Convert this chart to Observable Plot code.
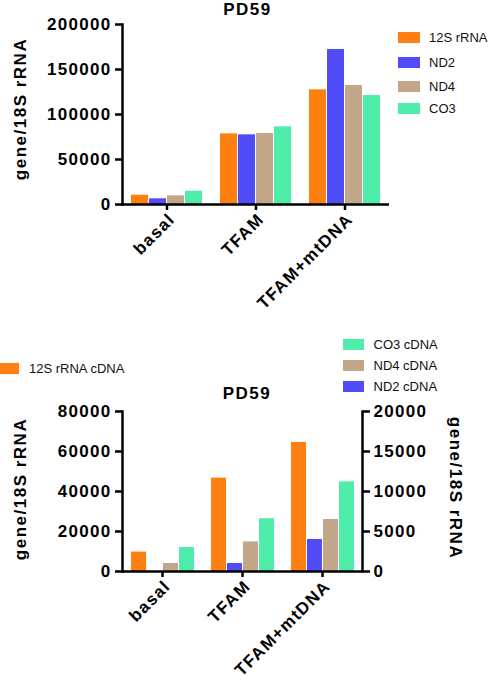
<!DOCTYPE html>
<html><head><meta charset="utf-8">
<script src="https://cdn.jsdelivr.net/npm/d3@7"></script>
<script src="https://cdn.jsdelivr.net/npm/@observablehq/plot@0.6"></script>
<style>
body{margin:0;background:#fff;}
#wrap{position:relative;width:496px;height:683px;overflow:hidden;font-family:"Liberation Sans",Arial,sans-serif;color:#000;}
.abs{position:absolute;white-space:nowrap;line-height:1;}
.title{font-weight:bold;font-size:17px;letter-spacing:1.5px;transform:translateX(-50%);}
.ylab{font-weight:bold;font-size:17px;letter-spacing:1.5px;}
.leg{font-size:13px;color:#111;display:flex;align-items:center;height:14px;}
.sw{display:inline-block;height:11px;}
.chart{position:absolute;left:0;}
</style></head>
<body><div id="wrap"></div>
<script>
const categories = ["basal", "TFAM", "TFAM+mtDNA"];
const colors = ["#ff7f10", "#4f4cf8", "#c1a68a", "#4eeeaa"];

// top panel
const topSeries = ["12S rRNA", "ND2", "ND4", "CO3"];
const top12S = [10300, 78500, 127400];
const topND2 = [6300, 77400, 172200];
const topND4 = [9600, 78900, 132200];
const topCO3 = [14800, 86300, 121100];
const topTicks = [0, 50000, 100000, 150000, 200000];

// bottom panel (12S on left axis, others on right axis)
const bottomSeries = ["12S rRNA cDNA", "ND2 cDNA", "ND4 cDNA", "CO3 cDNA"];
const bot12S = [9700, 46700, 64500];
const botND2 = [0, 1000, 4000];
const botND4 = [1000, 3700, 6500];
const botCO3 = [3000, 6600, 11200];
const botLeftTicks = [0, 20000, 40000, 60000, 80000];
const botRightTicks = [0, 5000, 10000, 15000, 20000];

const yLabel = "gene/18S rRNA";
const titleText = "PD59";

const wrap = document.getElementById("wrap");
const svgStyle = {fontFamily: "'Liberation Sans', Arial, sans-serif", fontSize: "17px", fontWeight: "bold", letterSpacing: "1.3px", color: "#000", background: "transparent"};

function rows(seriesNames, arrays, axisOf) {
  const out = [];
  categories.forEach((c, i) => arrays.forEach((arr, j) => out.push({cat: c, series: seriesNames[j], value: arr[i], axis: axisOf ? axisOf[j] : "left"})));
  return out;
}

function fxAxes() {
  return [
    Plot.axisFx({anchor: "bottom", text: null, tickSize: 6, label: null, strokeWidth: 2.5}),
    Plot.axisFx({anchor: "bottom", tickRotate: -45, tickSize: 6, tickPadding: 3, label: null, strokeOpacity: 0, dx: 5, dy: 3})
  ];
}

// ---- top chart
const topData = rows(topSeries, [top12S, topND2, topND4, topCO3]);
const topPlot = Plot.plot({
  width: 496, height: 330,
  marginLeft: 121, marginRight: 106, marginTop: 24, marginBottom: 126,
  style: svgStyle,
  fx: {domain: categories, padding: 0, label: null},
  x: {domain: topSeries, paddingInner: 0.07, paddingOuter: 0.485, axis: null},
  y: {domain: [0, topTicks[topTicks.length - 1]], label: null},
  color: {domain: topSeries, range: colors},
  marks: [
    Plot.barY(topData, {fx: "cat", x: "series", y: "value", fill: "series"}),
    Plot.ruleY([0], {stroke: "#000", strokeWidth: 2.5}),
    Plot.frame({anchor: "left", facetAnchor: "left", stroke: "#000", strokeWidth: 2.5}),
    Plot.axisY({ticks: topTicks, tickFormat: d => String(d), tickSize: 7, tickPadding: 4, label: null, strokeWidth: 2.5}),
    ...fxAxes()
  ]
});
topPlot.classList.add("chart");
topPlot.style.top = "0px";
topPlot.style.position = "absolute";
wrap.appendChild(topPlot);

// ---- bottom chart
const ratio = botLeftTicks[botLeftTicks.length - 1] / botRightTicks[botRightTicks.length - 1];
const botData = rows(bottomSeries, [bot12S, botND2, botND4, botCO3], ["left", "right", "right", "right"]);
const botPlot = Plot.plot({
  width: 496, height: 343,
  marginLeft: 121, marginRight: 133, marginTop: 71, marginBottom: 112,
  style: svgStyle,
  fx: {domain: categories, padding: 0, label: null},
  x: {domain: bottomSeries, paddingInner: 0.09, paddingOuter: 0.535, axis: null},
  y: {domain: [0, botLeftTicks[botLeftTicks.length - 1]], label: null},
  color: {domain: bottomSeries, range: colors},
  marks: [
    Plot.barY(botData, {fx: "cat", x: "series", y: d => d.axis === "right" ? d.value * ratio : d.value, fill: "series"}),
    Plot.ruleY([0], {stroke: "#000", strokeWidth: 2.5}),
    Plot.frame({anchor: "left", facetAnchor: "left", stroke: "#000", strokeWidth: 2.5}),
    Plot.frame({anchor: "right", facetAnchor: "right", stroke: "#000", strokeWidth: 2.5}),
    Plot.axisY({ticks: botLeftTicks, tickFormat: d => String(d), tickSize: 7, tickPadding: 4, label: null, strokeWidth: 2.5}),
    Plot.axisY({anchor: "right", ticks: botLeftTicks, tickFormat: d => String(d / ratio), tickSize: 7, tickPadding: 4, label: null, strokeWidth: 2.5}),
    ...fxAxes()
  ]
});
botPlot.classList.add("chart");
botPlot.style.top = "340px";
botPlot.style.position = "absolute";
wrap.appendChild(botPlot);

// ---- html text: titles, axis titles, legends
function addDiv(cls, text, css) {
  const d = document.createElement("div");
  d.className = "abs " + cls;
  d.textContent = text;
  Object.assign(d.style, css);
  wrap.appendChild(d);
  return d;
}
addDiv("title", titleText, {left: "247.5px", top: "0.5px"});
addDiv("title", titleText, {left: "247px", top: "384.5px"});
addDiv("ylab", yLabel, {left: "20px", top: "109px", transform: "translate(-50%,-50%) rotate(-90deg)"});
addDiv("ylab", yLabel, {left: "20px", top: "489px", transform: "translate(-50%,-50%) rotate(-90deg)"});
addDiv("ylab", yLabel, {left: "455px", top: "488px", transform: "translate(-50%,-50%) rotate(90deg)"});

function legendItem(label, color, x, yCenter, swW, gap) {
  const d = document.createElement("div");
  d.className = "abs leg";
  d.style.left = x + "px";
  d.style.top = (yCenter - 7) + "px";
  const s = document.createElement("span");
  s.className = "sw";
  s.style.width = swW + "px";
  s.style.background = color;
  s.style.marginRight = gap + "px";
  d.appendChild(s);
  d.appendChild(document.createTextNode(label));
  wrap.appendChild(d);
}
const topLegY = [37, 62, 86, 108];
topSeries.forEach((s, i) => legendItem(s, colors[i], 398, topLegY[i], 22, 9));
legendItem(bottomSeries[0], colors[0], -1, 368, 20, 10);
const botLegOrder = [3, 2, 1];
const botLegY = [344, 365.5, 386.5];
botLegOrder.forEach((k, i) => legendItem(bottomSeries[k], colors[k], 343, botLegY[i], 20.5, 10));
</script></body></html>
